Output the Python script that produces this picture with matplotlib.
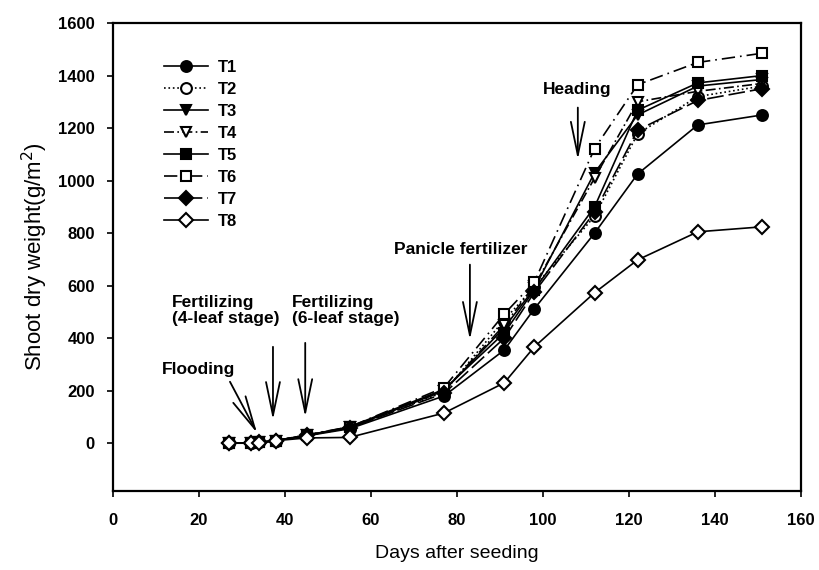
import matplotlib
matplotlib.use("Agg")
import matplotlib.pyplot as plt

plt.rcParams['font.family'] = ['Liberation Sans', 'DejaVu Sans']

days = [27, 32, 34, 38, 45, 55, 77, 91, 98, 112, 122, 136, 151]

T1 = [0, 2, 3, 10, 28, 55, 180, 355, 512, 800, 1025, 1212, 1250]
T2 = [0, 2, 3, 10, 30, 58, 195, 470, 595, 865, 1178, 1320, 1360]
T3 = [0, 2, 3, 10, 30, 60, 200, 440, 590, 1030, 1250, 1360, 1385]
T4 = [0, 2, 3, 10, 30, 60, 200, 450, 600, 1010, 1300, 1340, 1370]
T5 = [0, 2, 3, 10, 30, 62, 205, 420, 585, 900, 1268, 1372, 1400]
T6 = [0, 2, 3, 10, 32, 62, 212, 492, 614, 1122, 1365, 1450, 1485]
T7 = [0, 2, 3, 10, 30, 58, 190, 400, 575, 880, 1192, 1305, 1350]
T8 = [0, 0, 2, 10, 20, 22, 115, 230, 367, 573, 698, 805, 824]

labels = ['T1', 'T2', 'T3', 'T4', 'T5', 'T6', 'T7', 'T8']
series = [T1, T2, T3, T4, T5, T6, T7, T8]
markers = ['o', 'o', 'v', 'v', 's', 's', 'D', 'D']
fills = ['black', 'white', 'black', 'white', 'black', 'white', 'black', 'white']
styles = ['-', ':', '-', (0, (6, 2, 1, 2)), '-', (0, (8, 3, 1, 3)), (0, (10, 3)), '-']

xticks = [0, 20, 40, 60, 80, 100, 120, 140, 160]
yticks = [0, 200, 400, 600, 800, 1000, 1200, 1400, 1600]

fig = plt.figure(figsize=(8.19, 5.70), dpi=100)
ax = fig.add_axes([0.138, 0.1386, 0.840, 0.821])

for lab, y, m, fc, ls in zip(labels, series, markers, fills, styles):
    ms = 6.8 if m == 'D' else 7.8
    ax.plot(days, y, linestyle=ls, color='black', lw=1.2, marker=m,
            markersize=ms, markerfacecolor=fc, markeredgecolor='black',
            markeredgewidth=1.5, label=lab)

ax.set_xlim(0, 160)
ax.set_ylim(-182, 1600)
ax.set_xticks(xticks)
ax.set_yticks(yticks)
ax.tick_params(direction='out', length=4, width=1.2, labelsize=12, pad=9)
ax.tick_params(axis='x', pad=12)
for t in ax.get_xticklabels() + ax.get_yticklabels():
    t.set_fontweight('bold')
for s in ax.spines.values():
    s.set_linewidth(1.6)

ax.set_xlabel('Days after seeding', fontsize=14, labelpad=12)
ax.set_ylabel('Shoot dry weight(g/m$^2$)', fontsize=16, labelpad=6)

leg = ax.legend(loc='upper left', bbox_to_anchor=(0.065, 0.936), frameon=False,
                fontsize=12, handlelength=2.6, handletextpad=0.6,
                labelspacing=0.42, borderaxespad=0)
for t in leg.get_texts():
    t.set_fontweight('bold')

arrow = dict(arrowstyle='->, head_length=2.4, head_width=0.5', color='black',
             lw=1.3, mutation_scale=10, shrinkA=0, shrinkB=0)
fs = 12.5
ax.text(11.4, 280, 'Flooding', fontsize=fs, fontweight='bold', ha='left', va='center')
ax.annotate('', xy=(33.5, 39), xytext=(27.2, 234), arrowprops=arrow)
ax.annotate('', xy=(37.2, 89), xytext=(37.2, 367), arrowprops=arrow)
ax.text(13.7, 504, 'Fertilizing\n(4-leaf stage)', fontsize=fs, fontweight='bold',
        ha='left', va='center', linespacing=1.1)
ax.annotate('', xy=(44.7, 100), xytext=(44.7, 382), arrowprops=arrow)
ax.text(41.6, 504, 'Fertilizing\n(6-leaf stage)', fontsize=fs, fontweight='bold',
        ha='left', va='center', linespacing=1.1)
ax.annotate('', xy=(83, 394), xytext=(83, 680), arrowprops=arrow)
ax.text(65.3, 736, 'Panicle fertilizer', fontsize=fs, fontweight='bold',
        ha='left', va='center')
ax.annotate('', xy=(108.1, 1080), xytext=(108.1, 1278), arrowprops=arrow)
ax.text(100, 1346, 'Heading', fontsize=fs, fontweight='bold',
        ha='left', va='center')

fig.savefig('out.png', dpi=100)
